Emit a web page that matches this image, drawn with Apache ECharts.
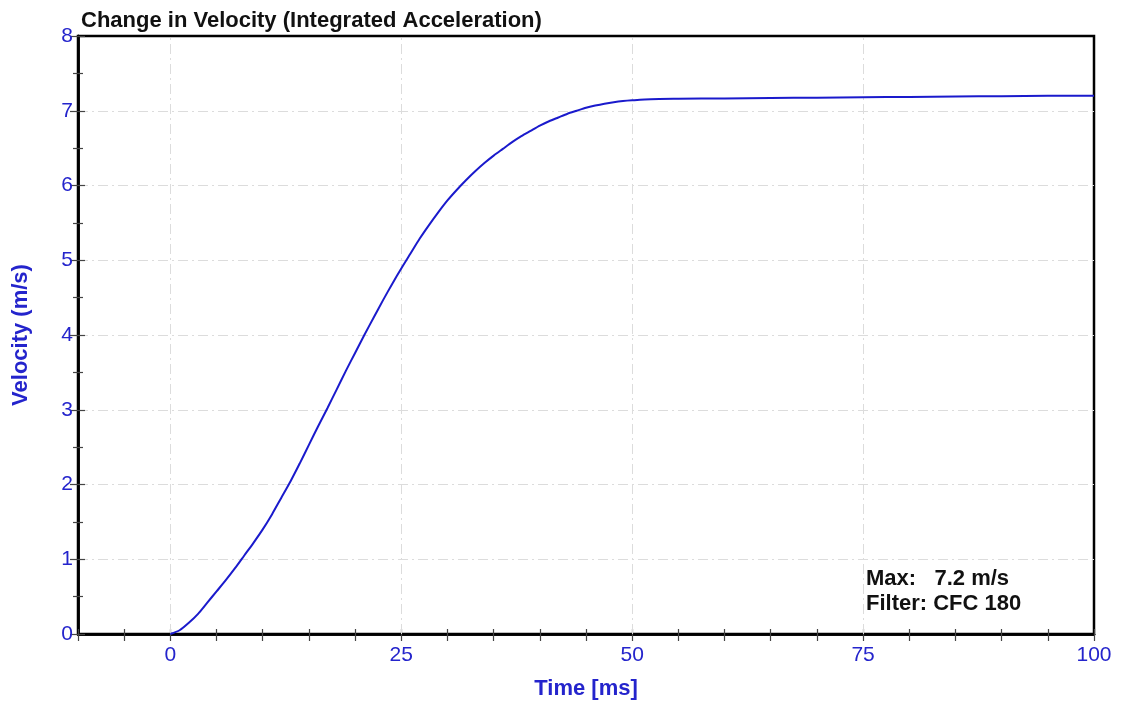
<!DOCTYPE html>
<html>
<head>
<meta charset="utf-8">
<script src="https://cdn.jsdelivr.net/npm/echarts@6/dist/echarts.min.js"></script>
<style>
html,body{margin:0;padding:0;background:#fff;}
#chart{width:1122px;height:705px;}
</style>
</head>
<body>
<div id="chart"></div>
<script>
// Data
const timeMs = [0,1,2,3,4,5,6,7,8,9,10,11,12,13,14,15,16,17,18,19,20,21,22,23,24,25,26,27,28,29,30,31,32,33,34,35,36,37,38,39,40,41,42,43,44,45,46,47,48,49,50,52,55,60,65,70,75,80,85,90,95,100];
const velocity = [0,0.05,0.15,0.27,0.42,0.57,0.72,0.88,1.05,1.22,1.40,1.60,1.82,2.04,2.28,2.53,2.78,3.02,3.27,3.52,3.76,4.00,4.23,4.46,4.68,4.89,5.09,5.29,5.47,5.64,5.80,5.94,6.07,6.19,6.30,6.40,6.49,6.58,6.66,6.73,6.80,6.86,6.91,6.96,7.00,7.04,7.07,7.095,7.115,7.13,7.14,7.155,7.16,7.165,7.17,7.175,7.18,7.185,7.19,7.195,7.20,7.20];
const xLabelValues = [0,25,50,75,100];
const xGridValues = [0,25,50,75];
const annotationLines = ['Max:   7.2 m/s', 'Filter: CFC 180'];
const titleText = 'Change in Velocity (Integrated Acceleration)';
const xName = 'Time [ms]';
const yName = 'Velocity (m/s)';

const FONT = '"Liberation Sans", Arial, sans-serif';
const BLUE = '#1a1acc';
const LBL = '#2424cc';

const chart = echarts.init(document.getElementById('chart'), null, {renderer:'canvas'});
const dashDot = [10,4,2,4];

const xBase = {
  type:'value', min:-10, max:100, interval:5, position:'bottom',
  axisLine:{show:true, onZero:false, lineStyle:{color:'#000', width:2.5}},
  splitLine:{show:false}
};
const yBase = {
  type:'value', min:0, max:8, interval:1, position:'left',
  axisLine:{show:true, onZero:false, lineStyle:{color:'#000', width:2.5}},
  splitLine:{show:false}
};

chart.setOption({
  animation:false,
  backgroundColor:'#fff',
  title:{
    text:titleText, left:76, top:5,
    textStyle:{fontFamily:FONT, fontSize:22, fontWeight:'bold', color:'#111'}
  },
  grid:{left:78, right:28, top:36, bottom:71, show:true, borderColor:'#000', borderWidth:2.5, backgroundColor:'#fff'},
  xAxis:[
    Object.assign({}, xBase, {
      name:xName, nameLocation:'middle', nameGap:44,
      nameTextStyle:{fontFamily:FONT, fontSize:22, fontWeight:'bold', color:LBL},
      axisTick:{show:true, inside:false, length:7, lineStyle:{color:'#444', width:1.2}},
      axisLabel:{
        show:true, margin:11, fontFamily:FONT, fontSize:21, color:LBL,
        formatter:function(v){ return xLabelValues.indexOf(v) >= 0 ? String(v) : ''; }
      }
    }),
    Object.assign({}, xBase, {
      axisTick:{show:true, inside:true, length:5, lineStyle:{color:'#444', width:1.2}},
      axisLabel:{show:false}
    })
  ],
  yAxis:[
    Object.assign({}, yBase, {
      name:yName, nameLocation:'middle', nameGap:46, nameRotate:90,
      nameTextStyle:{fontFamily:FONT, fontSize:22, fontWeight:'bold', color:LBL},
      axisTick:{show:true, inside:false, length:8, lineStyle:{color:'#444', width:1.2}},
      minorTick:{show:true, splitNumber:2, length:5, lineStyle:{color:'#444', width:1.2}},
      axisLabel:{show:true, margin:5, fontFamily:FONT, fontSize:21, color:LBL},
      splitLine:{show:true, showMinLine:false, showMaxLine:false, lineStyle:{color:'#dcdcdc', width:1, type:dashDot}}
    }),
    Object.assign({}, yBase, {
      axisTick:{show:true, inside:true, length:7, lineStyle:{color:'#444', width:1.2}},
      minorTick:{show:true, splitNumber:2, length:5, lineStyle:{color:'#444', width:1.2}},
      axisLabel:{show:false}
    })
  ],
  series:[{
    type:'line',
    xAxisIndex:0, yAxisIndex:0,
    data:timeMs.map((t,i)=>[t, velocity[i]]),
    showSymbol:false, smooth:0.25,
    lineStyle:{color:BLUE, width:2},
    z:5,
    markLine:{
      silent:true, symbol:'none', label:{show:false},
      lineStyle:{color:'#dcdcdc', width:1, type:dashDot},
      data:xGridValues.map(v=>({xAxis:v}))
    }
  }],
  graphic:[{
    type:'text', left:866, top:566, z:10,
    style:{text:annotationLines.join('\n'), fontFamily:FONT, fontSize:22, fontWeight:'bold', fill:'#111', lineHeight:25}
  }]
});
</script>
</body>
</html>
